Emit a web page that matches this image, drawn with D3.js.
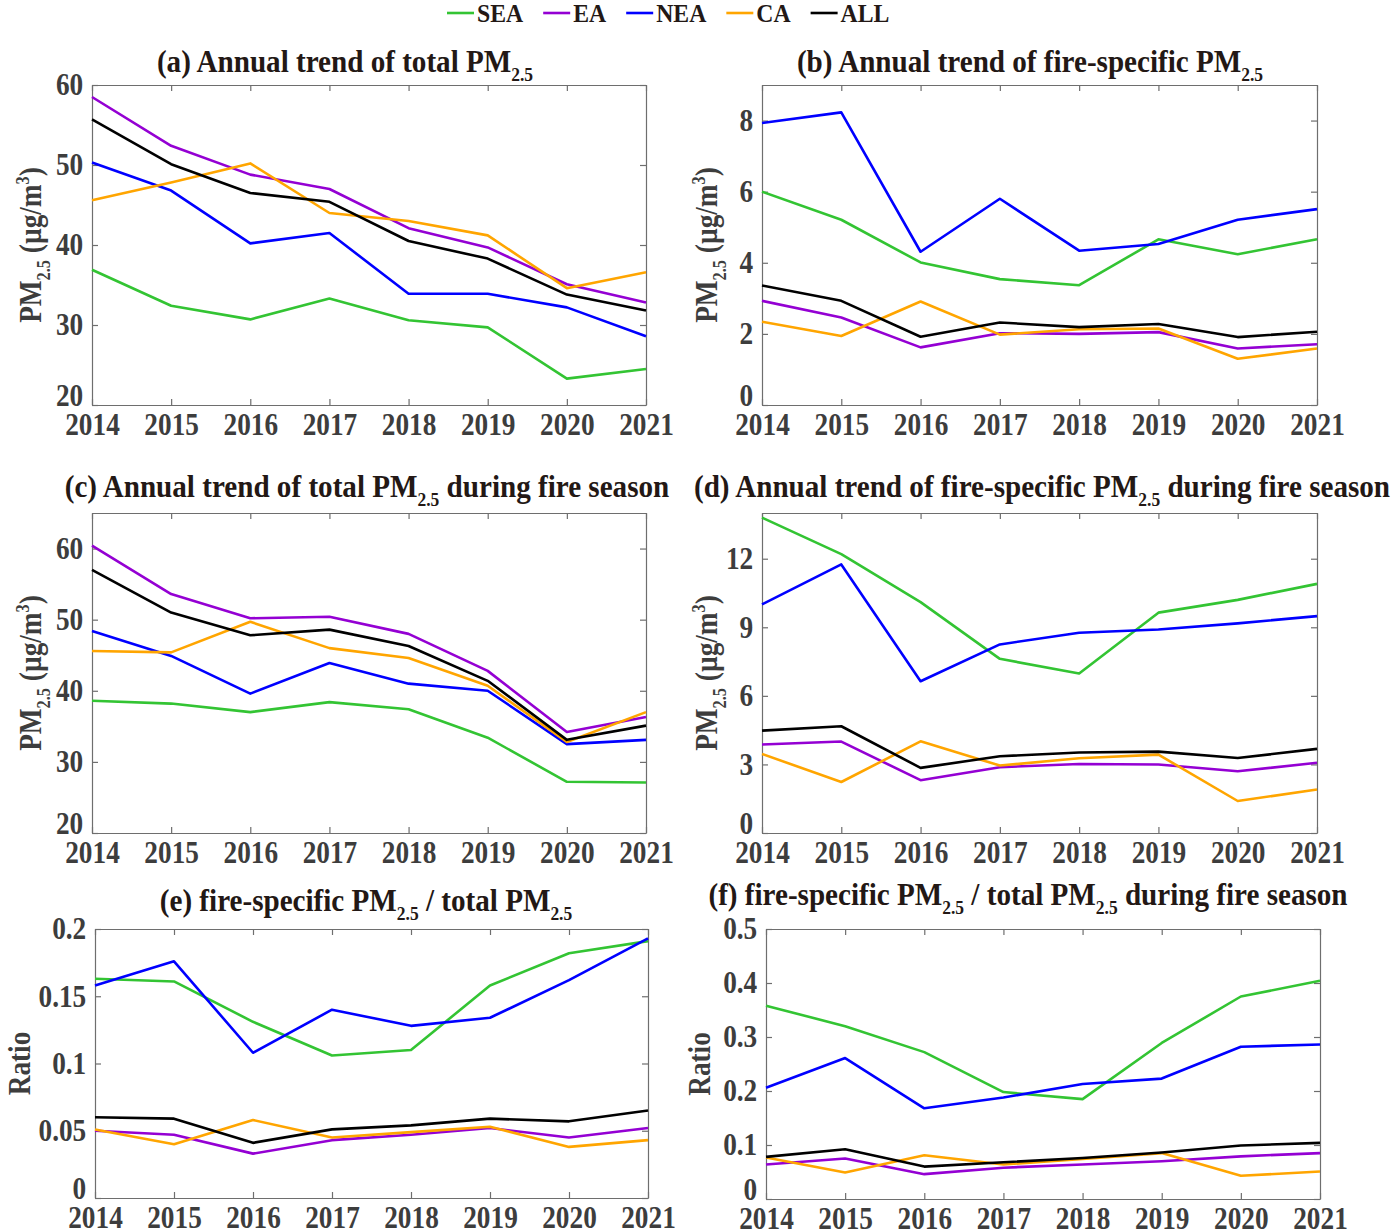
<!DOCTYPE html>
<html>
<head>
<meta charset="utf-8">
<script src="https://cdn.jsdelivr.net/npm/d3@7"></script>
<style>
  body { margin: 0; background: #fff; }
  svg { display: block; font-family: "Liberation Serif", "Times New Roman", serif; font-weight: bold; }
</style>
</head>
<body>
<svg id="chart" width="1400" height="1232"></svg>
<script>
const years = [2014, 2015, 2016, 2017, 2018, 2019, 2020, 2021];
const regions = ["SEA", "EA", "NEA", "CA", "ALL"];
const regionColors = ["#33c433", "#9400d3", "#0000ff", "#ffa500", "#000000"];

// (a) annual total PM2.5
const totalSEA = [36.9, 32.4, 30.7, 33.3, 30.6, 29.7, 23.3, 24.5];
const totalEA  = [58.5, 52.4, 48.8, 47.0, 42.1, 39.7, 35.1, 32.8];
const totalNEA = [50.3, 46.8, 40.2, 41.5, 33.9, 33.9, 32.2, 28.6];
const totalCA  = [45.6, 47.8, 50.2, 44.0, 43.0, 41.2, 34.6, 36.6];
const totalALL = [55.7, 50.1, 46.5, 45.4, 40.5, 38.3, 33.8, 31.8];

// (b) annual fire-specific PM2.5
const fireSEA = [6.0, 5.21, 4.01, 3.54, 3.37, 4.66, 4.24, 4.66];
const fireEA  = [2.93, 2.46, 1.62, 2.02, 2.0, 2.05, 1.59, 1.71];
const fireNEA = [7.93, 8.23, 4.31, 5.80, 4.34, 4.53, 5.21, 5.51];
const fireCA  = [2.34, 1.94, 2.91, 1.98, 2.13, 2.15, 1.30, 1.59];
const fireALL = [3.36, 2.93, 1.92, 2.32, 2.19, 2.28, 1.91, 2.06];

// (c) total PM2.5 during fire season
const seasonTotalSEA = [38.6, 38.2, 37.0, 38.4, 37.4, 33.4, 27.2, 27.1];
const seasonTotalEA  = [60.4, 53.6, 50.2, 50.4, 48.0, 42.8, 34.2, 36.3];
const seasonTotalNEA = [48.4, 44.9, 39.6, 43.9, 41.0, 40.0, 32.5, 33.1];
const seasonTotalCA  = [45.6, 45.4, 49.7, 46.0, 44.6, 40.7, 32.8, 37.0];
const seasonTotalALL = [57.0, 51.0, 47.8, 48.6, 46.3, 41.4, 33.1, 35.1];

// (d) fire-specific PM2.5 during fire season
const seasonFireSEA = [13.8, 12.2, 10.1, 7.62, 6.98, 9.64, 10.2, 10.9];
const seasonFireEA  = [3.87, 4.0, 2.31, 2.88, 3.02, 3.0, 2.7, 3.07];
const seasonFireNEA = [10.0, 11.75, 6.64, 8.25, 8.76, 8.9, 9.17, 9.49];
const seasonFireCA  = [3.46, 2.23, 4.01, 2.95, 3.27, 3.43, 1.40, 1.90];
const seasonFireALL = [4.48, 4.67, 2.85, 3.36, 3.52, 3.56, 3.28, 3.68];

// (e) ratio fire / total
const ratioSEA = [0.163, 0.161, 0.131, 0.106, 0.110, 0.158, 0.182, 0.191];
const ratioEA  = [0.050, 0.047, 0.033, 0.043, 0.047, 0.052, 0.045, 0.052];
const ratioNEA = [0.158, 0.176, 0.108, 0.140, 0.128, 0.134, 0.162, 0.193];
const ratioCA  = [0.051, 0.040, 0.058, 0.045, 0.049, 0.053, 0.038, 0.043];
const ratioALL = [0.060, 0.059, 0.041, 0.051, 0.054, 0.059, 0.057, 0.065];

// (f) ratio during fire season
const seasonRatioSEA = [0.358, 0.320, 0.272, 0.198, 0.185, 0.289, 0.375, 0.404];
const seasonRatioEA  = [0.064, 0.075, 0.046, 0.058, 0.064, 0.070, 0.079, 0.085];
const seasonRatioNEA = [0.206, 0.261, 0.168, 0.188, 0.213, 0.223, 0.282, 0.286];
const seasonRatioCA  = [0.077, 0.049, 0.081, 0.064, 0.074, 0.085, 0.043, 0.051];
const seasonRatioALL = [0.078, 0.092, 0.060, 0.068, 0.076, 0.086, 0.099, 0.104];

const ticksPM = [20, 30, 40, 50, 60];
const ticksFire = [0, 2, 4, 6, 8];
const ticksSeasonFire = [0, 3, 6, 9, 12];
const ticksRatio = [0, 0.05, 0.1, 0.15, 0.2];
const ticksSeasonRatio = [0, 0.1, 0.2, 0.3, 0.4, 0.5];

const PM = [["PM", ""], ["2.5", "sub"]];
const panels = [
    { box: [92, 646, 85, 405], titleX: 345, titleY: 72, ylabX: 31,
      title: [["(a) Annual trend of total ", ""], ...PM],
      ylabel: "pm", domain: [20, 60], ticks: ticksPM,
      series: [totalSEA, totalEA, totalNEA, totalCA, totalALL] },
    { box: [762, 1317, 85, 405], titleX: 1030, titleY: 72, ylabX: 707,
      title: [["(b) Annual trend of fire-specific ", ""], ...PM],
      ylabel: "pm", domain: [0, 9], ticks: ticksFire,
      series: [fireSEA, fireEA, fireNEA, fireCA, fireALL] },
    { box: [92, 646, 513, 833], titleX: 367, titleY: 497, ylabX: 31,
      title: [["(c) Annual trend of total ", ""], ...PM, [" during fire season", ""]],
      ylabel: "pm", domain: [20, 65], ticks: ticksPM,
      series: [seasonTotalSEA, seasonTotalEA, seasonTotalNEA, seasonTotalCA, seasonTotalALL] },
    { box: [762, 1317, 513, 833], titleX: 1042, titleY: 497, ylabX: 707,
      title: [["(d) Annual trend of fire-specific ", ""], ...PM, [" during fire season", ""]],
      ylabel: "pm", domain: [0, 14], ticks: ticksSeasonFire,
      series: [seasonFireSEA, seasonFireEA, seasonFireNEA, seasonFireCA, seasonFireALL] },
    { box: [95, 648, 929, 1198], titleX: 366, titleY: 911, ylabX: 20,
      title: [["(e) fire-specific ", ""], ...PM, [" / total ", ""], ...PM],
      ylabel: "Ratio", domain: [0, 0.2], ticks: ticksRatio,
      series: [ratioSEA, ratioEA, ratioNEA, ratioCA, ratioALL] },
    { box: [766, 1320, 929, 1199], titleX: 1028, titleY: 905, ylabX: 700,
      title: [["(f) fire-specific ", ""], ...PM, [" / total ", ""], ...PM, [" during fire season", ""]],
      ylabel: "Ratio", domain: [0, 0.5], ticks: ticksSeasonRatio,
      series: [seasonRatioSEA, seasonRatioEA, seasonRatioNEA, seasonRatioCA, seasonRatioALL] },
];

const svg = d3.select("#chart");
const tickColor = "#3d3d3d";
const squeeze = 0.88;
const fmtTick = d => String(+d.toFixed(2));

function addRuns(textSel, runs, size) {
    let shift = 0;
    for (const [str, kind] of runs) {
        const t = textSel.append("tspan").text(str);
        let target = 0;
        if (kind === "sub") {
            t.attr("font-size", size * 0.6);
            target = size * 0.28;
        } else if (kind === "sup") {
            t.attr("font-size", size * 0.6);
            target = -size * 0.4;
        }
        if (target !== shift) t.attr("dy", target - shift);
        shift = target;
    }
}

function drawPanel(p) {
    const [l, r, t, b] = p.box;
    const x = d3.scalePoint().domain(years).range([l, r]);
    const y = d3.scaleLinear().domain(p.domain).range([b, t]);
    const g = svg.append("g").attr("class", "panel");

    const axes = [
        ["bottom", d3.axisBottom(x).tickFormat(d3.format("d")), `translate(0,${b})`, true],
        ["top", d3.axisTop(x).tickFormat(""), `translate(0,${t})`, false],
        ["left", d3.axisLeft(y).tickValues(p.ticks).tickFormat(fmtTick), `translate(${l},0)`, true],
        ["right", d3.axisRight(y).tickValues(p.ticks).tickFormat(""), `translate(${r},0)`, false],
    ];
    for (const [side, axis, tr, labelled] of axes) {
        const a = g.append("g").attr("transform", tr)
            .call(axis.tickSizeInner(-6).tickSizeOuter(0).tickPadding(labelled ? 10 : 0));
        a.select(".domain").attr("stroke", "#6e6e6e").attr("stroke-width", 1.2);
        a.selectAll(".tick line").attr("stroke", "#6e6e6e").attr("stroke-width", 1.2);
        a.selectAll(".tick text")
            .attr("fill", tickColor)
            .attr("font-size", 31)
            .attr("font-family", "Liberation Serif, serif")
            .attr("font-weight", "bold")
            .attr("transform", `scale(${squeeze},1)`);
        if (side === "left") {
            // lowest label sits a little above its tick, as in the source figure
            a.selectAll(".tick text").filter(d => d === p.domain[0]).attr("dy", "0.0em");
        }
        if (side === "bottom") {
            a.selectAll(".tick text").attr("dy", "0.65em");
        }
    }

    const line = d3.line().x((d, i) => x(years[i])).y(d => y(d));
    g.selectAll("path.series")
        .data(p.series)
        .join("path")
        .attr("class", "series")
        .attr("fill", "none")
        .attr("stroke", (d, i) => regionColors[i])
        .attr("stroke-width", 2.6)
        .attr("stroke-linejoin", "round")
        .attr("d", line);

    const title = g.append("text")
        .attr("transform", `translate(${p.titleX},${p.titleY}) scale(0.91,1)`)
        .attr("text-anchor", "middle")
        .attr("font-size", 32)
        .attr("fill", "#231815");
    addRuns(title, p.title, 32);

    const yl = g.append("text")
        .attr("transform", `translate(${p.ylabX + 10},${(t + b) / 2}) rotate(-90) scale(${squeeze},1)`)
        .attr("text-anchor", "middle")
        .attr("font-size", 31)
        .attr("fill", tickColor);
    if (p.ylabel === "pm") {
        addRuns(yl, [["PM", ""], ["2.5", "sub"], [" (\u00b5g/m", ""], ["3", "sup"], [")", ""]], 31);
    } else {
        yl.text(p.ylabel);
    }
}

panels.forEach(drawPanel);

// legend
const legend = svg.append("g").attr("class", "legend");
let lx = 447;
regions.forEach((name, i) => {
    legend.append("line")
        .attr("x1", lx).attr("x2", lx + 27)
        .attr("y1", 13).attr("y2", 13)
        .attr("stroke", regionColors[i]).attr("stroke-width", 2.6);
    const txt = legend.append("text")
        .attr("transform", `translate(${lx + 30},22) scale(0.95,1)`)
        .attr("font-size", 25)
        .attr("fill", "#231815")
        .text(name);
    lx += 30 + txt.node().getComputedTextLength() * 0.95 + 20;
});
</script>
</body>
</html>
